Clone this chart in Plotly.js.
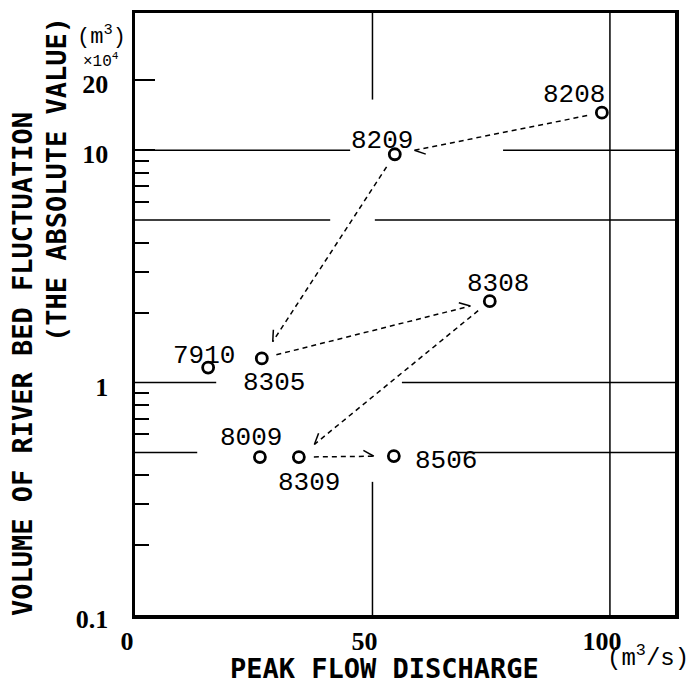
<!DOCTYPE html>
<html>
<head>
<meta charset="utf-8">
<script src="https://cdn.plot.ly/plotly-3.0.1.min.js"></script>
<style>
html,body{margin:0;padding:0;background:#fff;}
#chart{width:695px;height:683px;}
</style>
</head>
<body>
<div id="chart"></div>
<script>
// ---------- data ----------
const events   = ['7910', '8009', '8208', '8209', '8305', '8308', '8309', '8506'];
const peakFlow = [15.4,   26.3,   98.3,   54.7,   26.7,   74.7,   34.5,   54.5];   // m3/s
const volume   = [1.16,   0.478,  14.5,   9.6,    1.27,   2.24,   0.478,  0.483];  // x10^4 m3
const sequence = ['8208', '8209', '8305', '8308', '8309', '8506'];                // arrow chain

const xTickVals = [0, 50, 100];
const xTickText = ['0', '50', '100'];
const yTickVals = [0.1, 1, 10, 20];
const yTickText = ['0.1', '1', '10', '20'];
const yMinorTicks = [0.2, 0.3, 0.4, 0.6, 0.7, 0.8, 0.9, 2, 3, 4, 6, 7, 8, 9];

// ---------- layout constants / styles ----------
const X_RANGE = [0, 113.7];
const Y_RANGE_LOG = [-1, 1.59];
const Y_MIN = Math.pow(10, Y_RANGE_LOG[0]), Y_MAX = Math.pow(10, Y_RANGE_LOG[1]);
const M = {l: 135, r: 20, t: 13, b: 68};
const W = 695 - M.l - M.r, H = 683 - M.t - M.b;
const START_GAP = 15, END_GAP = 20, BARB_LEN = 12;
const barbSide = [1, -1, 1, -1, 1];
const labelOffset = {            // pixel offsets of label centre from its point
  '7910': [-4, 12], '8009': [-9, 19], '8208': [-28, 18], '8209': [-13, 13],
  '8305': [12, -25], '8308': [8, 17], '8309': [10, -26], '8506': [52, -5]
};
// grid lines are interrupted around the annotations, as in the original drawing
const hGrid = [
  {at: 10,  spans: [[X_RANGE[0], 45.3], [77.5, X_RANGE[1]]]},
  {at: 5,   spans: [[X_RANGE[0], 41.1], [50.5, X_RANGE[1]]]},
  {at: 1,   spans: [[X_RANGE[0], 17.1], [56.2, X_RANGE[1]]]},
  {at: 0.5, spans: [[X_RANGE[0], 13.1], [67.4, X_RANGE[1]]]}
];
const vGrid = [
  {at: 50,  spans: [[Y_MIN, 0.374], [16.5, Y_MAX]]},
  {at: 100, spans: [[Y_MIN, Y_MAX]]}
];

function toPx(x, y) {
  return [(x - X_RANGE[0]) / (X_RANGE[1] - X_RANGE[0]) * W,
          (1 - (Math.log10(y) - Y_RANGE_LOG[0]) / (Y_RANGE_LOG[1] - Y_RANGE_LOG[0])) * H];
}
function fromPx(px, py) {
  return [X_RANGE[0] + px / W * (X_RANGE[1] - X_RANGE[0]),
          Math.pow(10, Y_RANGE_LOG[0] + (1 - py / H) * (Y_RANGE_LOG[1] - Y_RANGE_LOG[0]))];
}

const lineX = [], lineY = [], barbX = [], barbY = [];
for (let i = 0; i < sequence.length - 1; i++) {
  const a = events.indexOf(sequence[i]), b = events.indexOf(sequence[i + 1]);
  const p0 = toPx(peakFlow[a], volume[a]), p1 = toPx(peakFlow[b], volume[b]);
  const dx = p1[0] - p0[0], dy = p1[1] - p0[1], L = Math.hypot(dx, dy);
  const ux = dx / L, uy = dy / L;
  const s = fromPx(p0[0] + ux * START_GAP, p0[1] + uy * START_GAP);
  const eP = [p1[0] - ux * END_GAP, p1[1] - uy * END_GAP];
  const e = fromPx(eP[0], eP[1]);
  lineX.push(s[0], e[0], null); lineY.push(s[1], e[1], null);
  const th = barbSide[i] * Math.PI / 6;
  const bx = -ux, by = -uy;
  const rx = bx * Math.cos(th) - by * Math.sin(th);
  const ry = bx * Math.sin(th) + by * Math.cos(th);
  const be = fromPx(eP[0] + rx * BARB_LEN, eP[1] + ry * BARB_LEN);
  barbX.push(e[0], be[0], null); barbY.push(e[1], be[1], null);
}

const traces = [
  {x: lineX, y: lineY, mode: 'lines', line: {color: '#000', width: 1.5, dash: '5px,4px'}, hoverinfo: 'skip'},
  {x: barbX, y: barbY, mode: 'lines', line: {color: '#000', width: 1.5}, hoverinfo: 'skip'},
  {x: peakFlow, y: volume, mode: 'markers', marker: {symbol: 'circle', size: 11, color: '#fff', line: {color: '#000', width: 2.8}}, hoverinfo: 'skip'}
];

const labelFont = {family: 'Liberation Mono', size: 26, color: '#000'};
const titleFont = {family: 'DejaVu Sans Mono', size: 27, color: '#000', weight: 700};
const annotations = events.map((ev, i) => ({
  x: peakFlow[i], y: Math.log10(volume[i]), xref: 'x', yref: 'y',
  text: ev, showarrow: false, font: labelFont,
  xshift: labelOffset[ev][0], yshift: labelOffset[ev][1],
  xanchor: 'center', yanchor: 'middle'
}));
annotations.push(
  {xref: 'paper', yref: 'paper', x: (22 - M.l) / W, y: (M.t + H - 364) / H, text: 'VOLUME OF RIVER BED FLUCTUATION',
   textangle: -90, showarrow: false, font: titleFont, xanchor: 'center', yanchor: 'middle'},
  {xref: 'paper', yref: 'paper', x: (56 - M.l) / W, y: (M.t + H - 180) / H, text: '(THE ABSOLUTE VALUE)',
   textangle: -90, showarrow: false, font: titleFont, xanchor: 'center', yanchor: 'middle'},
  {xref: 'paper', yref: 'paper', x: (384 - M.l) / W, y: (M.t + H - 668) / H, text: 'PEAK FLOW DISCHARGE',
   showarrow: false, font: titleFont, xanchor: 'center', yanchor: 'middle'},
  {xref: 'paper', yref: 'paper', x: (648 - M.l) / W, y: (M.t + H - 657) / H, text: '(m<sup>3</sup>/s)',
   showarrow: false, font: {family: 'Liberation Mono', size: 24, color: '#000'}, xanchor: 'center', yanchor: 'middle'},
  {xref: 'paper', yref: 'paper', x: (101 - M.l) / W, y: (M.t + H - 36) / H, text: '(m<sup>3</sup>)',
   showarrow: false, font: {family: 'Liberation Mono', size: 22, color: '#000'}, xanchor: 'center', yanchor: 'middle'},
  {xref: 'paper', yref: 'paper', x: (101 - M.l) / W, y: (M.t + H - 60) / H, text: '×10<sup>4</sup>',
   showarrow: false, font: {family: 'Liberation Mono', size: 16, color: '#000'}, xanchor: 'center', yanchor: 'middle'}
);

const gridLine = {color: '#000', width: 1.5};
const shapes = [];
hGrid.forEach(g => g.spans.forEach(sp => shapes.push({
  type: 'line', xref: 'x', yref: 'y', x0: sp[0], x1: sp[1], y0: g.at, y1: g.at, line: gridLine, layer: 'below'
})));
vGrid.forEach(g => g.spans.forEach(sp => shapes.push({
  type: 'line', xref: 'x', yref: 'y', x0: g.at, x1: g.at, y0: sp[0], y1: sp[1], line: gridLine, layer: 'below'
})));

const tickFont = {family: 'Liberation Serif', size: 26, color: '#000', weight: 700};

const layout = {
  width: 695, height: 683,
  margin: M,
  paper_bgcolor: '#fff', plot_bgcolor: '#fff',
  showlegend: false, hovermode: false,
  xaxis: {
    range: X_RANGE, tickmode: 'array', tickvals: xTickVals, ticktext: xTickText,
    showgrid: false, zeroline: false,
    showline: true, linecolor: '#000', linewidth: 3.5, mirror: true,
    ticks: '', tickfont: tickFont, ticklabelstandoff: 0, ticklabelshift: -8
  },
  yaxis: {
    type: 'log', range: Y_RANGE_LOG, tickmode: 'array', tickvals: yTickVals, ticktext: yTickText,
    showgrid: false, zeroline: false,
    showline: true, linecolor: '#000', linewidth: 3.5, mirror: true,
    ticks: 'inside', ticklen: 20, tickwidth: 1.5, tickcolor: '#000',
    minor: {tickvals: yMinorTicks, ticks: 'inside', ticklen: 14, tickwidth: 2, tickcolor: '#000', showgrid: false},
    tickfont: tickFont, ticklabelstandoff: 18, ticklabelshift: 4
  },
  annotations: annotations,
  shapes: shapes
};

Plotly.newPlot('chart', traces, layout, {staticPlot: true, displayModeBar: false});
</script>
</body>
</html>
